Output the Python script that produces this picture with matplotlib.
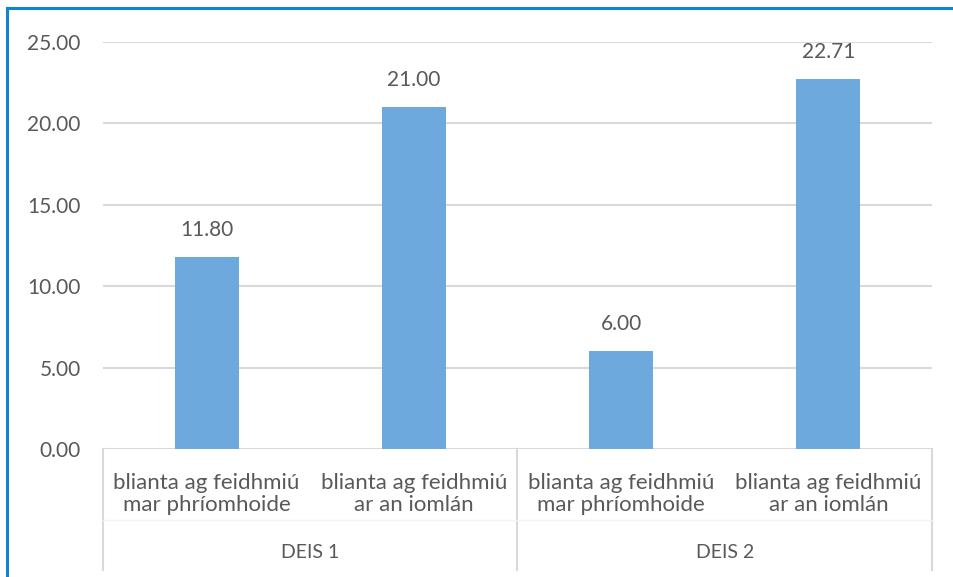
import matplotlib.pyplot as plt
from matplotlib.transforms import blended_transform_factory
from matplotlib.lines import Line2D

plt.rcParams['font.family'] = ['Lato', 'DejaVu Sans']

# data
groups = ['DEIS 1', 'DEIS 2']
categories = ['blianta ag feidhmiú\nmar phríomhoide', 'blianta ag feidhmiú\nar an iomlán',
              'blianta ag feidhmiú\nmar phríomhoide', 'blianta ag feidhmiú\nar an iomlán']
values = [11.80, 21.00, 6.00, 22.71]
yticks = [0, 5, 10, 15, 20, 25]

W, H = 954, 577
bar_col = '#6DA9DC'
grid_col = '#D9D9D9'
txt_col = '#595959'
border_col = '#0C86D2'
fs = 15

fig = plt.figure(figsize=(W/100, H/100), dpi=100)
ax = fig.add_axes([103/W, 1-449/H, (932-103)/W, (449-42)/H])

x = list(range(len(values)))
ax.bar(x, values, width=0.31, color=bar_col, zorder=3)
for xi, v in zip(x, values):
    ax.annotate('%.2f' % v, (xi, v), xytext=(0, 27), textcoords='offset pixels',
                ha='center', va='center', fontsize=fs, color=txt_col)

ax.set_xlim(-0.5, len(values)-0.5)
ax.set_ylim(0, 25)
ax.set_yticks(yticks)
ax.set_yticklabels(['%.2f' % t for t in yticks], fontsize=fs, color=txt_col)
ax.tick_params(axis='y', length=0, pad=16)
ax.set_xticks([])
ax.yaxis.grid(True, color=grid_col, linewidth=1.5, zorder=0)
for s in ax.spines.values():
    s.set_visible(False)

# multi-level category axis
tr = blended_transform_factory(ax.transData, fig.transFigure)
for xi, lab in zip(x, categories):
    ax.text(xi, 1-494/H, lab, transform=tr, ha='center', va='center',
            fontsize=16, color=txt_col, linespacing=1.12)
for gi, g in enumerate(groups):
    ax.text(gi*2+0.5, 1-553/H, g, transform=tr, ha='center', va='center',
            fontsize=14, color=txt_col)
for sx in [-0.5, 1.5, 3.5]:
    ax.plot([sx, sx], [1-449/H, 1-570/H], transform=tr, color=grid_col,
            linewidth=1.5, clip_on=False)
ax.plot([-0.5, 3.5], [1-520/H, 1-520/H], transform=tr, color='#F3F3F3',
        linewidth=1, clip_on=False)

# outer frame (top and left edges only visible)
fig.add_artist(Line2D([7/W, 1], [1-8/H, 1-8/H], color=border_col, linewidth=2.2))
fig.add_artist(Line2D([7/W, 7/W], [0, 1-8/H], color=border_col, linewidth=2.2))

fig.savefig('out.png', dpi=100)
